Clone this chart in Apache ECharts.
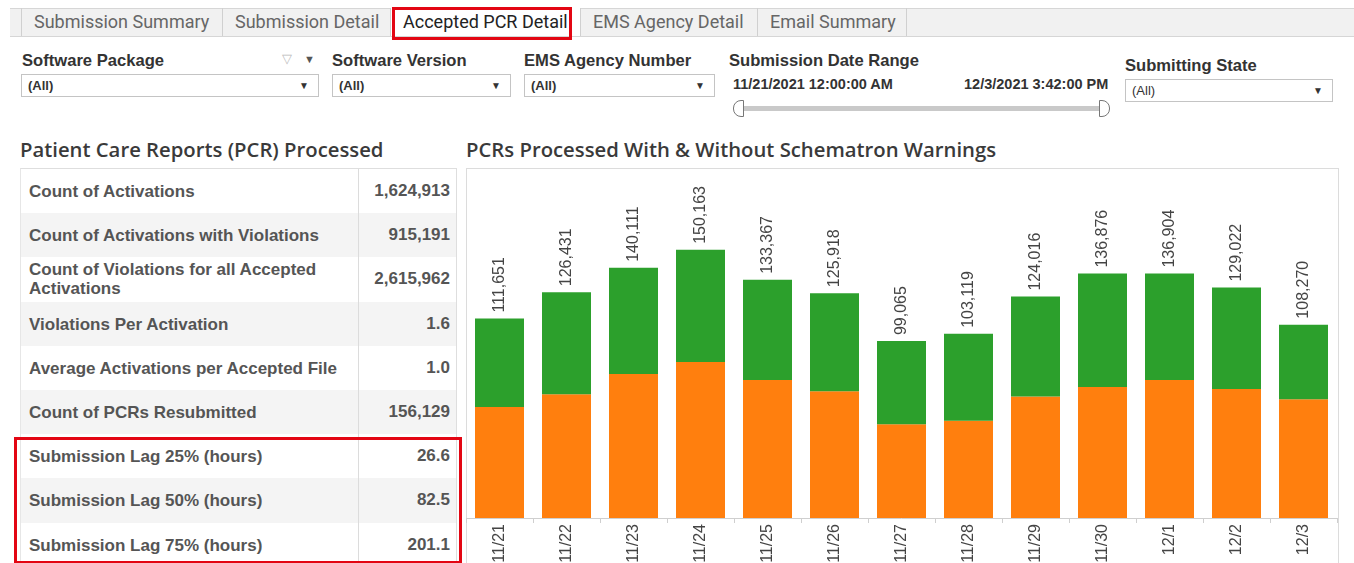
<!DOCTYPE html>
<html>
<head>
<meta charset="utf-8">
<script src="https://cdn.jsdelivr.net/npm/echarts@6/dist/echarts.min.js"></script>
<style>
  body { margin:0; width:1354px; height:563px; overflow:hidden; background:#fff;
         font-family:"Liberation Sans", Arial, sans-serif; position:relative; }
  .abs { position:absolute; white-space:nowrap; }
  #tabbar { position:absolute; left:10px; right:0; top:8px; height:27px; background:#f1f1f1;
            border-top:1px solid #d6d6d6; border-bottom:1px solid #d6d6d6; }
  .tab { position:absolute; top:8px; height:28px; line-height:28px; font-family:Roboto, sans-serif;
         font-size:18px; color:#666; border-left:1px solid #d0d0d0; box-sizing:border-box; padding-left:12px; }
  .tab.active { background:#fff; color:#222; }
  .ftitle { position:absolute; font-weight:bold; font-size:16.6px; color:#333; }
  .dd { position:absolute; height:23px; border:1px solid #c4c4c4; box-sizing:border-box; background:#fff;
        font-size:13px; font-weight:bold; color:#333; line-height:21px; padding-left:6px; }
  .dd .arr { position:absolute; right:9px; top:0; font-size:10px; color:#333; }
  .sect { position:absolute; font-family:"Open Sans", sans-serif; font-weight:600; font-size:20.3px; color:#3a3a3a; }
  #stats { position:absolute; left:20px; top:168px; width:435px; border-top:1px solid #dedede;
           border-left:1px solid #e6e6e6; border-right:1px solid #dedede; }
  .row { position:relative; height:44.2px; font-weight:bold; font-size:17px; color:#555; }
  .row.alt { background:#f4f4f4; }
  .row .lab { position:absolute; left:8px; top:50%; transform:translateY(-50%); line-height:19px; }
  .row .val { position:absolute; right:6px; top:50%; transform:translateY(-50%); }
  .row .sep { position:absolute; left:337px; top:0; bottom:0; border-left:1px solid #dcdcdc; }
  #panel { position:absolute; left:466px; top:168px; width:873px; height:400px;
           border:1px solid #dcdcdc; border-bottom:none; box-sizing:border-box; }
  #chart { position:absolute; left:466px; top:168px; width:874px; height:395px; }
</style>
</head>
<body>
<div id="tabbar"></div>
<div id="tabs"></div>
<div class="abs" style="left:392px;top:7px;width:180px;height:33px;border:3px solid #e30613;box-sizing:border-box;"></div>

<div class="ftitle" style="left:22px;top:51px;">Software Package</div>
<div class="abs" style="left:282px;top:51px;font-size:13px;color:#bbb;">&#9661;</div>
<div class="abs" style="left:304px;top:53px;font-size:11px;color:#555;">&#9660;</div>
<div class="dd" style="left:21px;top:74px;width:298px;">(All)<span class="arr">&#9660;</span></div>
<div class="ftitle" style="left:332px;top:51px;">Software Version</div>
<div class="dd" style="left:332px;top:74px;width:179px;">(All)<span class="arr">&#9660;</span></div>
<div class="ftitle" style="left:524px;top:51px;">EMS Agency Number</div>
<div class="dd" style="left:524px;top:74px;width:191px;">(All)<span class="arr">&#9660;</span></div>
<div class="ftitle" style="left:729px;top:51px;">Submission Date Range</div>
<div class="abs" style="left:733px;top:76px;font-size:14.5px;font-weight:bold;color:#333;">11/21/2021 12:00:00 AM</div>
<div class="abs" style="left:964px;top:76px;font-size:14.5px;font-weight:bold;color:#333;">12/3/2021 3:42:00 PM</div>
<div class="abs" style="left:740px;top:106px;width:362px;height:5px;background:#c9c9c9;"></div>
<div class="abs" style="left:733px;top:100px;width:11px;height:17px;border:1px solid #777;border-radius:8px 0 0 8px;background:#fff;box-sizing:border-box;"></div>
<div class="abs" style="left:1099px;top:100px;width:11px;height:17px;border:1px solid #777;border-radius:0 8px 8px 0;background:#fff;box-sizing:border-box;"></div>
<div class="ftitle" style="left:1125px;top:56px;">Submitting State</div>
<div class="dd" style="left:1125px;top:79px;width:208px;font-weight:normal;">(All)<span class="arr">&#9660;</span></div>

<div class="sect" style="left:20px;top:135px;">Patient Care Reports (PCR) Processed</div>
<div class="sect" style="left:466px;top:135px;">PCRs Processed With &amp; Without Schematron Warnings</div>

<div id="stats"></div>
<div class="abs" style="left:14px;top:437px;width:448px;height:127px;border:3px solid #e30613;box-sizing:border-box;"></div>

<div id="panel"></div>
<div id="chart"></div>

<script>
// tabs
var tabNames = ['Submission Summary', 'Submission Detail', 'Accepted PCR Detail', 'EMS Agency Detail', 'Email Summary'];
var tabEdges = [21, 222, 390, 580, 757, 906];
var activeTab = 2;

// left table
var statLabels = ['Count of Activations', 'Count of Activations with Violations',
  'Count of Violations for all Accepted<br>Activations', 'Violations Per Activation',
  'Average Activations per Accepted File', 'Count of PCRs Resubmitted',
  'Submission Lag 25% (hours)', 'Submission Lag 50% (hours)', 'Submission Lag 75% (hours)'];
var statValues = ['1,624,913', '915,191', '2,615,962', '1.6', '1.0', '156,129', '26.6', '82.5', '201.1'];

// chart data
var days = ['11/21', '11/22', '11/23', '11/24', '11/25', '11/26', '11/27', '11/28', '11/29', '11/30', '12/1', '12/2', '12/3'];
var totalPCRs = [111651, 126431, 140111, 150163, 133367, 125918, 99065, 103119, 124016, 136876, 136904, 129022, 108270];
var withWarnings = [62200, 69300, 80600, 87300, 77300, 71000, 52500, 54500, 68000, 73300, 77300, 72300, 66500];
var withoutWarnings = totalPCRs.map(function (t, i) { return t - withWarnings[i]; });

var html = '';
for (var i = 0; i < tabNames.length; i++) {
  html += '<div class="tab' + (i == activeTab ? ' active' : '') + '" style="left:' + tabEdges[i] +
    'px;width:' + (tabEdges[i + 1] - tabEdges[i]) + 'px;">' + tabNames[i] + '</div>';
}
html += '<div class="tab" style="left:' + tabEdges[tabNames.length] + 'px;width:1px;"></div>';
document.getElementById('tabs').innerHTML = html;

html = '';
for (var j = 0; j < statLabels.length; j++) {
  html += '<div class="row' + (j % 2 == 1 ? ' alt' : '') + '"><span class="lab">' + statLabels[j] +
    '</span><span class="sep"></span><span class="val">' + statValues[j] + '</span></div>';
}
document.getElementById('stats').innerHTML = html;

var chart = echarts.init(document.getElementById('chart'));
var option = {
  animation: false,
  grid: { left: 0, top: 0, width: 871, height: 350, outerBoundsMode: 'none', containLabel: false },
  xAxis: {
    type: 'category',
    data: days,
    axisLine: { lineStyle: { color: '#cfcfcf' } },
    axisTick: { show: true, length: 5, lineStyle: { color: '#cfcfcf' } },
    axisLabel: { rotate: 90, color: '#444', fontSize: 16, fontFamily: 'Liberation Sans', margin: 6 }
  },
  yAxis: { type: 'value', min: 0, max: 196000, show: false },
  series: [
    {
      name: 'With Schematron Warnings',
      type: 'bar',
      stack: 'pcr',
      barWidth: 49,
      itemStyle: { color: '#ff7f0e' },
      data: withWarnings
    },
    {
      name: 'Without Schematron Warnings',
      type: 'bar',
      stack: 'pcr',
      barWidth: 49,
      itemStyle: { color: '#2ca02c' },
      data: withoutWarnings,
      label: {
        show: true,
        position: 'top',
        rotate: 90,
        align: 'left',
        verticalAlign: 'middle',
        distance: 6,
        color: '#444',
        fontSize: 16,
        fontFamily: 'Liberation Sans',
        formatter: function (p) { return totalPCRs[p.dataIndex].toLocaleString('en-US'); }
      }
    }
  ]
};
chart.setOption(option);
</script>
</body>
</html>
